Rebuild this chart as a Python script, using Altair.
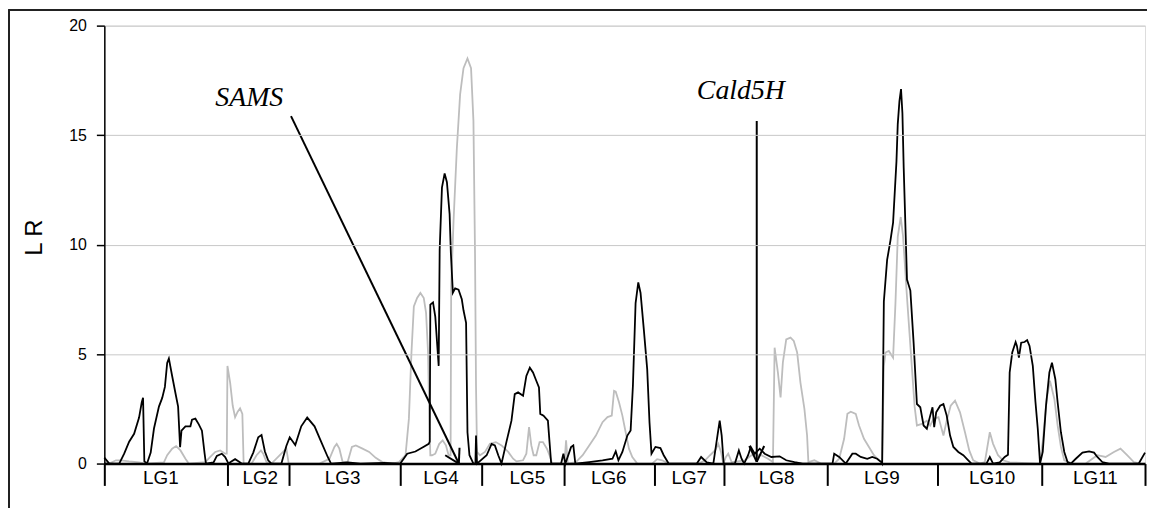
import altair as alt
import pandas as pd

# ---- data -------------------------------------------------------------
lg_names = ["LG1", "LG2", "LG3", "LG4", "LG5", "LG6", "LG7", "LG8", "LG9", "LG10", "LG11"]
lg_bounds = [0, 124, 186, 298, 380, 463, 554, 624, 728, 839, 944, 1048]
lg_label_pos = [57, 157, 240, 339, 426, 508, 589, 677, 783, 894, 998]
y_ticks = [0, 5, 10, 15, 20]

black_pos = [0, 5, 15, 20, 25, 30, 35, 37.7, 39, 40.3, 43, 46.7, 50, 55, 58.3, 61, 63.3, 65, 68.3, 71.7,
             74.3, 76.3, 77.7, 81.7, 86.7, 88.3, 91.7, 95, 98.3, 101, 102.3, 110, 113.3, 118.3, 121.7, 125,
             128.3, 131.7, 135, 138.3, 145, 150, 155, 158.3, 161.7, 165, 168.3, 178.3, 183.3, 186.7, 192.3,
             198.3, 204.3, 211.7, 218.3, 225, 228.3, 245, 258, 281.7, 298, 305, 313.3, 321.7, 326.7, 327.7,
             328.3, 331, 333.3, 336.7, 337.7, 340, 342.7, 345, 347.7, 349, 351, 353.3, 356.7, 360, 361.7,
             364.3, 365.7, 367.7, 371.7, 373.7, 374.3, 375.3, 385, 390, 393.3, 396.7, 400, 405, 410, 413.3,
             416.7, 421.7, 425, 428.5, 431.7, 435, 437.7, 439, 442.3, 446.7, 448.3, 450, 460, 462.3, 464.3,
             470, 472.3, 474.3, 488.3, 501.7, 511.7, 515, 517.7, 521.7, 526.7, 530, 532.3, 535, 537.7, 540,
             543.3, 546.7, 549, 551, 555, 560, 563.3, 568.3, 596.7, 601, 606.7, 613.3, 617.7, 619.7, 621.7,
             623.7, 635, 639, 641.7, 644.3, 648.3, 651, 655, 660, 665, 671.7, 680, 686.7, 695, 703.3, 733.3,
             735, 740, 746.7, 753.3, 756.7, 761.7, 768.3, 773.3, 778.3, 782.3, 783.3, 785, 788.3, 791.7,
             794.3, 797.7, 799, 800.7, 802.3, 803.7, 805, 808.3, 811.7, 815, 818.3, 821.7, 825, 828.3, 831.7,
             834, 835.7, 837.7, 841.7, 845, 848.3, 851.7, 855, 860, 865, 870, 873.3, 888.3, 891.7, 895,
             901.7, 906.7, 910, 911.7, 914.3, 917.7, 919, 921, 923.3, 926.7, 929.3, 931.7, 935, 937.7, 940,
             942.3, 945, 948.3, 951.7, 954.3, 957.7, 960, 963.3, 966.7, 970, 973.3, 978.3, 985, 991.7, 996.7,
             1000, 1005, 1011.7, 1041.7, 1048]
black_lr = [0.27, 0, 0, 0.45, 1.0, 1.36, 2.1, 2.8, 3.0, 0.1, 0, 0.5, 1.6, 2.6, 3.0, 3.5, 4.6, 4.8, 4.0, 3.2,
            2.6, 0.75, 1.5, 1.7, 1.7, 2.0, 2.05, 1.8, 1.5, 0.45, 0, 0.05, 0.35, 0.45, 0.3, 0,
            0.1, 0.2, 0.1, 0, 0, 0.5, 1.2, 1.3, 0.55, 0.15, 0, 0, 0.8, 1.2, 0.85,
            1.7, 2.1, 1.7, 1.0, 0.3, 0, 0.05, 0, 0.03, 0, 0.45, 0.55, 0.77, 0.9, 1.0,
            7.26, 7.36, 6.7, 4.46, 9.75, 12.6, 13.25, 12.85, 11.4, 9.6, 7.8, 8.0, 7.94, 7.5, 7.0,
            6.43, 1.43, 0.38, 0, 0, 1.28, 0, 0.38, 0.9, 0.83, 0.38, 0, 1.0, 1.96, 3.17,
            3.25, 3.1, 4.0, 4.38, 4.16, 3.78, 3.48, 2.27, 2.19, 1.96, 1.0, 0, 0, 0.45, 0,
            0.75, 0.83, 0, 0.07, 0.15, 0.22, 0.56, 0.15, 0.53, 1.28, 1.51, 3.55, 7.33, 8.27, 7.79,
            6.12, 4.3, 1.89, 0.45, 0.76, 0.71, 0.38, 0, 0, 0.3, 0.05, 0, 1.36, 1.96, 1.28,
            0, 0, 0.6, 0.22, 0, 0.38, 0.76, 0.45, 0.68, 0.45, 0.3, 0.33, 0.15, 0.07, 0, 0,
            0.45, 0.3, 0, 0.45, 0.45, 0.3, 0.22, 0.3, 0.22, 0.07, 0, 7.4, 9.3, 10.2,
            11.0, 13.8, 15.5, 16.55, 17.1, 16.0, 13.5, 8.4, 7.9, 5.5, 2.72, 2.57, 1.74, 1.59, 2.19,
            2.57, 1.66, 2.34, 2.64, 2.72, 2.19, 1.28, 0.76, 0.53, 0.38, 0.15, 0, 0, 0.3, 0,
            0.05, 0.3, 0.4, 4.16, 5.07, 5.55, 5.37, 4.84, 5.52, 5.55, 5.64, 5.37, 4.46, 2.8, 1.59,
            0, 0.53, 2.64, 4.16, 4.61, 3.85, 2.8, 1.43, 0.53, 0.07, 0, 0.22, 0.5, 0.56, 0.5,
            0.3, 0.07, 0, 0, 0.5]

grey_pos = [0, 5, 11.7, 16.7, 25, 35, 41.7, 60, 63.3, 68.3, 72.3, 76.7, 81.7, 85, 101.7, 106.7, 111.7,
            116.7, 121.7, 123.3, 124, 126.7, 129.3, 131.7, 134.3, 136.7, 139, 140.3, 148.3, 153.3, 157.7,
            160, 163.3, 168.3, 175, 180, 183.3, 185.7, 216.7, 226.7, 231.7, 234, 236.7, 240, 245, 249.3,
            253.3, 260, 266.7, 273.3, 280, 290, 296.7, 303.3, 306.7, 309.3, 311.7, 315, 318.3, 321.7, 324,
            326, 327.3, 328.3, 330, 333.3, 337.3, 340.7, 344, 346.7, 348.7, 349.3, 351.7, 355, 358.3,
            361.7, 365.7, 369.3, 371.7, 373.3, 374.3, 375.3, 378.3, 383.3, 388.3, 394.3, 400, 406.7,
            411.7, 415, 421.7, 425, 427.7, 430, 432.3, 435, 438.3, 441.7, 445.7, 448.3, 451, 463.3, 465,
            466.7, 475, 481.7, 488.3, 495, 501.7, 506.7, 511, 513.3, 515, 518.3, 521.7, 525, 528.3, 531.7,
            536.7, 551.7, 556.7, 561.7, 568.3, 598.3, 605, 610, 615, 618.3, 621, 623.3, 626, 628.3, 631.7,
            645, 651.7, 661.7, 668.3, 673.3, 675, 678.3, 681, 683.3, 686.7, 691, 694.3, 697.7, 701, 705,
            707.7, 709, 715, 721.7, 735, 740, 745, 748.3, 751.7, 756.7, 760, 765, 770, 775, 780, 783.3,
            785, 786.7, 790, 794.3, 796.7, 799, 802, 804.3, 808, 812.3, 816, 818.3, 823.3, 828.3, 831.7,
            835, 840, 845, 848.3, 852.3, 856.7, 861.7, 866.7, 871, 875, 881.7, 886.7, 891.7, 895, 900, 905,
            911.7, 941.7, 945, 949, 952.3, 956.7, 960, 963.3, 966.7, 975, 988.3, 995, 1000, 1008.3, 1016.7,
            1023.3, 1030, 1036.7, 1043.3, 1048]
grey_lr = [0.05, 0, 0.15, 0.15, 0.1, 0.05, 0, 0.05, 0.38, 0.68, 0.8, 0.6, 0.22, 0, 0.07, 0.3, 0.53,
           0.6, 0.45, 0.45, 4.46, 3.7, 2.64, 2.12, 2.37, 2.52, 2.27, 0, 0, 0.38, 0.6,
           0.45, 0.07, 0, 0.3, 0.53, 0.68, 0, 0, 0.22, 0.76, 0.9, 0.68, 0.07, 0.07, 0.76,
           0.83, 0.68, 0.53, 0.26, 0.07, 0, 0.07, 0.38, 2.04, 5.07, 7.18, 7.56, 7.79, 7.56, 6.88,
           5.07, 2.04, 0.38, 0.38, 0.45, 0.9, 1.06, 0.83, 0.38, 0.38, 8.1, 11.1, 14.4, 16.86,
           18.06, 18.5, 18.06, 15.65, 9.6, 3.55, 0.53, 0.38, 0.53, 0.9, 0.98, 0.83, 0.53,
           0.22, 0.1, 0.15, 0.45, 1.66, 0.83, 0.38, 0.38, 0.98, 0.98, 0.68, 0.38, 0, 0, 1.06,
           0, 0.07, 0.38, 0.83, 1.28, 1.89, 2.12, 2.19, 3.32, 3.28, 2.8, 2.19, 1.43, 0.68, 0.3,
           0, 0, 0.2, 0.15, 0, 0, 0.15, 0.38, 0.6, 0.9, 0.53, 0, 0.3, 0.45, 0.07,
           0.15, 0.38, 0.38, 0.22, 0.07, 5.29, 4.16, 3.02, 4.61, 5.67, 5.75, 5.6, 5.07, 3.7, 2.5,
           1.28, 0.07, 0.15, 0, 0, 0.22, 1.13, 2.27, 2.37, 2.27, 1.74, 1.13, 0.76, 0.38, 0.15, 0.07,
           4.46, 5.07, 5.14, 4.84, 7.33, 10.35, 11.26, 10.4, 7.8, 5.0, 2.6, 1.74, 1.81, 1.96, 1.74,
           2.04, 2.12, 1.28, 1.96, 2.64, 2.87, 2.34, 1.43, 0.6, 0.15, 0, 0.07, 1.43, 0.9, 0.38, 0.15,
           0.05, 0, 0.98, 2.95, 3.78, 2.95, 1.74, 0.76, 0.15, 0, 0, 0.22, 0.38, 0.3, 0.53,
           0.68, 0.38, 0.07, 0, 0]

# annotations (text anchor, arrow shaft and arrowhead arms, in map position / LR units)
ann_labels = ["SAMS", "Cald5H"]
ann_text_pos = [146, 641]
ann_text_lr = [16.33, 16.64]
arrow_start_pos = [188, 657]
arrow_start_lr = [15.87, 15.65]
arrow_end_pos = [357, 657]
arrow_end_lr = [0.0, 0.08]
arm_tip_pos = [357, 357, 657, 657]
arm_tip_lr = [0.0, 0.0, 0.08, 0.08]
arm_end_pos = [357.7, 343.3, 649.5, 664.5]
arm_end_lr = [0.72, 0.38, 0.8, 0.8]

# ---- tables -----------------------------------------------------------
black_df = pd.DataFrame({"pos": black_pos, "lr": black_lr})
grey_df = pd.DataFrame({"pos": grey_pos, "lr": grey_lr})
lab_df = pd.DataFrame({"pos": lg_label_pos, "name": lg_names})
ann_df = pd.DataFrame({"pos": ann_text_pos, "lr": ann_text_lr, "label": ann_labels})
arr_df = pd.DataFrame({"x1": arrow_start_pos, "y1": arrow_start_lr,
                       "x2": arrow_end_pos, "y2": arrow_end_lr})
arm_df = pd.DataFrame({"x1": arm_tip_pos, "y1": arm_tip_lr, "x2": arm_end_pos, "y2": arm_end_lr})

x_scale = alt.Scale(domain=[lg_bounds[0], lg_bounds[-1]], nice=False, zero=False)
y_scale = alt.Scale(domain=[0, 20], nice=False)

x_axis = alt.Axis(values=lg_bounds, labels=False, tickSize=22, tickWidth=2, tickColor="black",
                  domainColor="black", domainWidth=2.5, grid=False, title=None, zindex=1)
y_axis = alt.Axis(values=y_ticks, tickSize=8, tickWidth=1.5, tickColor="black", domainColor="black",
                  domainWidth=1.5, grid=True, gridColor="#c8c8c8", gridWidth=1,
                  labelFontSize=16, labelPadding=10, labelColor="black", labelFont="Liberation Sans",
                  title="L R", titleFontSize=24, titleFontWeight="normal", titleFont="Liberation Sans",
                  titleColor="black", titleX=-58, titleY=213, zindex=1)

grey_line = alt.Chart(grey_df).mark_line(color="#bdbdbd", strokeWidth=1.8).encode(
    x=alt.X("pos:Q", scale=x_scale, axis=x_axis),
    y=alt.Y("lr:Q", scale=y_scale, axis=y_axis),
)
black_line = alt.Chart(black_df).mark_line(color="black", strokeWidth=1.8).encode(
    x=alt.X("pos:Q", scale=x_scale),
    y=alt.Y("lr:Q", scale=y_scale),
)

lg_text = alt.Chart(lab_df).mark_text(font="Liberation Sans", fontSize=19, color="black",
                                      baseline="middle", align="center").encode(
    x=alt.X("pos:Q", scale=x_scale),
    y=alt.value(456),
    text="name:N",
)

ann_text = alt.Chart(ann_df).mark_text(font="Liberation Serif", fontStyle="italic", fontSize=28,
                                       color="black", baseline="alphabetic", align="center").encode(
    x=alt.X("pos:Q", scale=x_scale),
    y=alt.Y("lr:Q", scale=y_scale),
    text="label:N",
)

arrow_line = alt.Chart(arr_df).mark_rule(color="black", strokeWidth=2).encode(
    x=alt.X("x1:Q", scale=x_scale),
    y=alt.Y("y1:Q", scale=y_scale),
    x2="x2:Q",
    y2="y2:Q",
)

arrow_arms = alt.Chart(arm_df).mark_rule(color="black", strokeWidth=2).encode(
    x=alt.X("x1:Q", scale=x_scale),
    y=alt.Y("y1:Q", scale=y_scale),
    x2="x2:Q",
    y2="y2:Q",
)

frame_top = alt.Chart(lab_df).mark_rule(color="#222222", strokeWidth=1.6).encode(
    x=alt.value(-96), x2=alt.value(1100), y=alt.value(-16))
frame_left = alt.Chart(lab_df).mark_rule(color="#222222", strokeWidth=1.6).encode(
    x=alt.value(-96), y=alt.value(-16), y2=alt.value(490))

chart = alt.layer(
    grey_line, black_line, lg_text, ann_text, arrow_line, arrow_arms, frame_top, frame_left
).properties(
    width=1048, height=441,
    padding={"left": 97, "top": 16, "right": 2, "bottom": 43},
    autosize=alt.AutoSizeParams(type="none"),
).configure_view(
    stroke="#a6a6a6", strokeWidth=1.5
).configure(background="white")

chart.save("out.html", embed_options={"renderer": "svg", "actions": False})
